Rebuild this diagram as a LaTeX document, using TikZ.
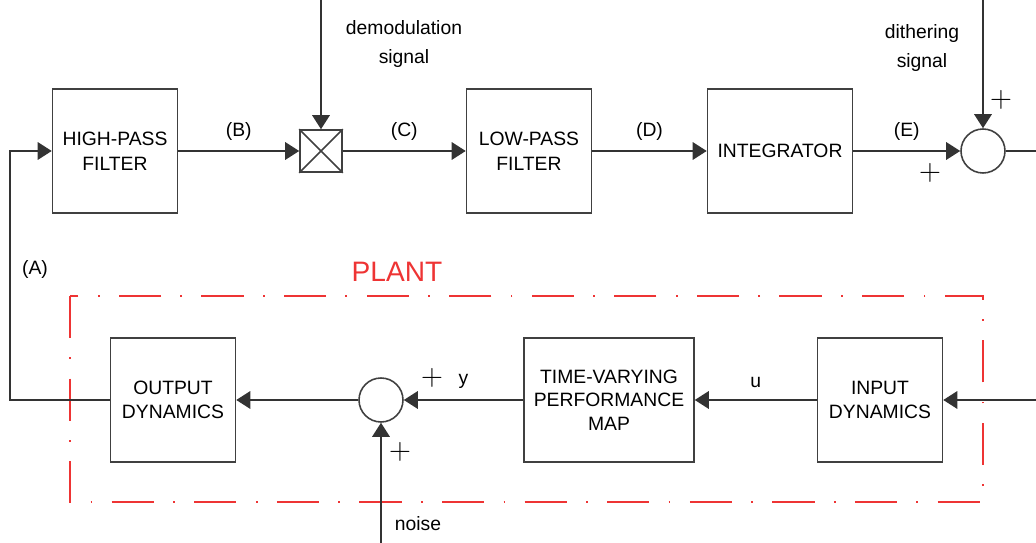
\documentclass[tikz,border=0pt]{standalone}
\usepackage{fontspec}
\setmainfont{Liberation Sans}
\usetikzlibrary{positioning,arrows.meta}
\definecolor{plantred}{RGB}{238,52,52}

\begin{document}
\begin{tikzpicture}[x=0.02cm,y=-0.02cm,font=\fontsize{11}{14}\selectfont,>={Triangle[length=8pt,width=10pt]},
   blk/.style={draw=black!75,line width=0.9pt,minimum width=2.5cm,minimum height=2.48cm,align=center,inner sep=0pt},
   sum/.style={draw=black!75,line width=0.9pt,circle,minimum size=0.88cm,inner sep=0pt},
   sig/.style={draw=black!80,line width=0.9pt},
   pm/.style={font=\fontsize{17}{17}\selectfont,inner sep=0pt}]
  \useasboundingbox (0,0) rectangle (1036,543);
  % forward path
  \node[blk] (hpf) at (115,151) {HIGH-PASS\\FILTER};
  \node[draw=black!75,line width=0.9pt,minimum size=0.84cm,inner sep=0pt] (mul) at (321,151) {};
  \draw[black!75,line width=0.9pt] (mul.north west)--(mul.south east) (mul.north east)--(mul.south west);
  \node[blk] (lpf) at (529,151) {LOW-PASS\\FILTER};
  \node[blk,minimum width=2.9cm] (int) at (780,151) {INTEGRATOR};
  \node[sum] (sumd) at (983,151) {};
  \coordinate (demod) at (321,0);
  \coordinate (dith) at (983,0);
  \coordinate (out) at (1036,151);
  \node[align=center,font=\fontsize{11}{16}\selectfont] (demodl) at (404,44) {demodulation\\signal};
  \node[align=center,font=\fontsize{11}{16}\selectfont] (dithl) at (922,48) {dithering\\signal};
  \draw[sig,->] (demod) -- (mul.north);
  \draw[sig,->] (dith) -- (sumd.north);
  \draw[sig,->] (hpf.east) -- node[above=2pt] (B) {(B)} (mul.west);
  \draw[sig,->] (mul.east) -- node[above=2pt] (C) {(C)} (lpf.west);
  \draw[sig,->] (lpf.east) -- node[above=2pt] (D) {(D)} (int.west);
  \draw[sig,->] (int.east) -- node[above=2pt] (E) {(E)} (sumd.west);
  \draw[sig] (sumd.east) -- (out);
  \node[pm] (p1) at (1001,100) {$+$};
  \node[pm] (p2) at (930,173) {$+$};
  % plant
  \draw[plantred,line width=0.7pt,dash pattern=on 24pt off 11pt on 1pt off 11pt] (70,296) rectangle (983,502);
  \node[text=plantred,font=\fontsize{16}{19}\selectfont] (plant) at (397,272) {PLANT};
  \node[blk] (outd) at (173,400) {OUTPUT\\DYNAMICS};
  \node[sum] (sumn) at (381,400) {};
  \node[blk,minimum width=3.4cm,font=\fontsize{11}{13.5}\selectfont] (map) at (609,400) {TIME-VARYING\\PERFORMANCE\\MAP};
  \node[blk] (ind) at (880,400) {INPUT\\DYNAMICS};
  \coordinate (uin) at (1036,400);
  \coordinate (noisein) at (381,543);
  \coordinate (fb) at (10,400);
  \draw[sig,->] (uin) -- (ind.east);
  \draw[sig,->] (ind.west) -- node[above=3pt] (u) {u} (map.east);
  \draw[sig,->] (map.west) -- node[above=3pt] (y) {y} (sumn.east);
  \draw[sig,->] (sumn.west) -- (outd.east);
  \draw[sig,->] (noisein) -- (sumn.south);
  \node (noisel) at (418,524) {noise};
  \node[pm] (p3) at (432,378) {$+$};
  \node[pm] (p4) at (400,452) {$+$};
  % feedback (A)
  \draw[sig,->] (outd.west) -- (fb) |- (hpf.west);
  \node (A) at (35,270) {(A)};
\end{tikzpicture}
\end{document}
